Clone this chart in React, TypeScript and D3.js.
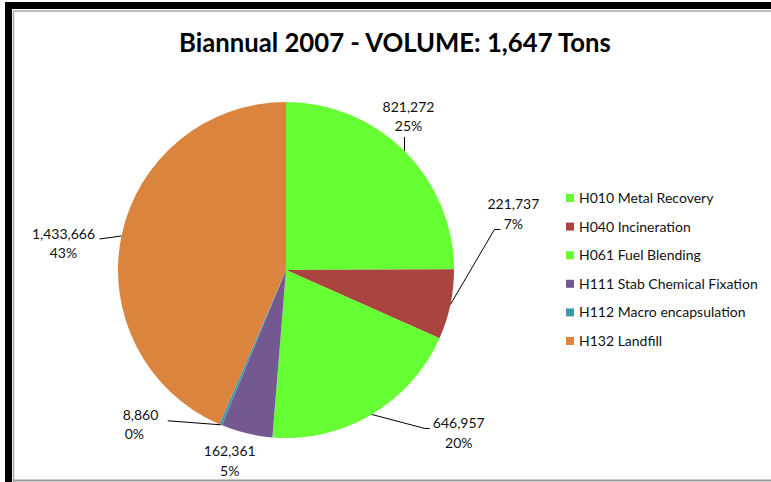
import React from 'react';
import * as d3 from 'd3';

const categories = [
  'H010 Metal Recovery',
  'H040 Incineration',
  'H061 Fuel Blending',
  'H111 Stab Chemical Fixation',
  'H112 Macro encapsulation',
  'H132 Landfill',
];
const values = [821272, 221737, 646957, 162361, 8860, 1433666];
const percentLabels = ['25%', '7%', '20%', '5%', '0%', '43%'];
const colors = ['#66FF33', '#A9443F', '#66FF33', '#735891', '#3B98AD', '#DB843D'];
const title = 'Biannual 2007 - VOLUME: 1,647 Tons';

// label layout, offsets relative to the slice's outer edge at its mid angle
const labelLayout = [
  { leader: [[0, -14]], dx: 4, dy: -39, anchor: 'middle' },
  { leader: [[44, -75], [50, -75]], dx: 63, dy: -95, anchor: 'middle' },
  { leader: [[53, 14], [58, 14]], dx: 87, dy: 14, anchor: 'middle' },
  { leader: [], dx: -17, dy: 23, anchor: 'middle' },
  { leader: [[-53, -4]], dx: -98, dy: -5, anchor: 'start' },
  { leader: [[-22, 3]], dx: -58, dy: 3, anchor: 'middle' },
];

const W = 771;
const H = 482;
const cx = 286;
const cy = 270;
const R = 168;
const font = 'Lato, "Open Sans", sans-serif';

export default function App() {
  const pie = d3.pie<number>().sort(null).value((d) => d)(values);
  const arc = d3.arc<d3.PieArcDatum<number>>().innerRadius(0).outerRadius(R);
  const fmt = d3.format(',');
  const lineH = 19.5;

  return (
    <svg
      width={W}
      height={H}
      style={{ position: 'absolute', left: 0, top: 0, background: '#fff' }}
    >
      <rect x={0} y={0} width={W} height={H} fill="#fff" />
      {/* frame */}
      <rect x={5} y={2} width={7} height={H} fill="#000" />
      <rect x={5} y={2} width={W} height={7} fill="#000" />
      <line x1={13.5} y1={11} x2={13.5} y2={H} stroke="#aaa" strokeWidth={1.5} />
      <line x1={13} y1={11} x2={W} y2={11} stroke="#aaa" strokeWidth={1.5} />
      <line x1={13} y1={480.5} x2={W} y2={480.5} stroke="#999" strokeWidth={2} />

      <text
        x={395}
        y={52}
        textAnchor="middle"
        fontFamily={font}
        fontWeight="bold"
        fontSize={25.7}
        fill="#000"
      >
        {title}
      </text>

      <g transform={`translate(${cx},${cy})`}>
        {pie.map((p, i) => (
          <path key={i} d={arc(p) || ''} fill={colors[i]} />
        ))}
      </g>

      {pie.map((p, i) => {
        const a = (p.startAngle + p.endAngle) / 2;
        const ex = cx + R * Math.sin(a);
        const ey = cy - R * Math.cos(a);
        const L = labelLayout[i];
        const pts: [number, number][] = [[ex, ey], ...L.leader.map(([dx, dy]) => [ex + dx, ey + dy] as [number, number])];
        const tx = ex + L.dx;
        const ty = ey + L.dy;
        return (
          <g key={i}>
            {L.leader.length > 0 && (
              <path d={d3.line()(pts) || ''} fill="none" stroke="#000" strokeWidth={1} />
            )}
            <text x={tx} y={ty} textAnchor={L.anchor} fontFamily={font} fontSize={14} fill="#111">
              {fmt(values[i])}
            </text>
            <text
              x={L.anchor === 'start' ? tx + 2 : tx}
              y={ty + lineH}
              textAnchor={L.anchor}
              fontFamily={font}
              fontSize={14}
              fill="#111"
            >
              {percentLabels[i]}
            </text>
          </g>
        );
      })}

      <g>
        {categories.map((c, i) => {
          const by = 203 + i * 28.6;
          return (
            <g key={c}>
              <rect x={566} y={by - 9} width={8} height={8} fill={colors[i]} />
              <text x={579} y={by} fontFamily={font} fontSize={14} fill="#111">
                {c}
              </text>
            </g>
          );
        })}
      </g>
    </svg>
  );
}
